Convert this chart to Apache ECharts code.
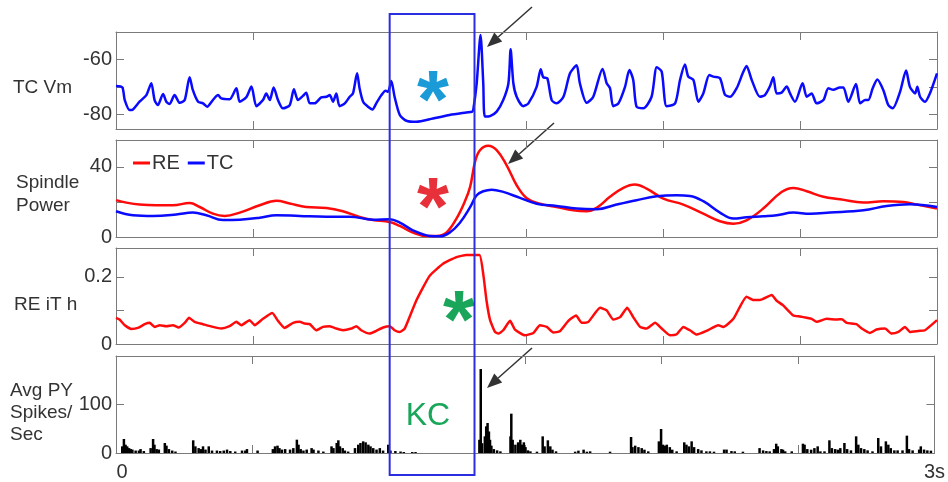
<!DOCTYPE html>
<html>
<head>
<meta charset="utf-8">
<script src="https://cdn.jsdelivr.net/npm/echarts@6/dist/echarts.min.js"></script>
<style>
html,body{margin:0;padding:0;background:#fff;}
#chart{width:948px;height:482px;}
</style>
</head>
<body>
<div id="chart"></div>
<script>
// ---------- DATA ----------
const xTicks = [0, 0.5, 1, 1.5, 2, 2.5, 3];            // seconds
const xLabelTicks = [0, 3];
const panelLabels = [['TC Vm'], ['Spindle', 'Power'], ['RE iT h'], ['Avg PY', 'Spikes/', 'Sec']];
const legendNames = ['RE', 'TC'];

// Panel 1: TC membrane potential (mV)
const tcVmT = [0.000,0.023,0.032,0.050,0.062,0.086,0.111,0.129,0.141,0.153,0.172,0.184,0.196,0.214,0.233,0.251,0.269,0.281,0.300,0.318,0.333,0.354,0.373,0.385,0.415,0.440,0.452,0.476,0.495,0.513,0.537,0.549,0.562,0.576,0.592,0.610,0.635,0.650,0.665,0.683,0.695,0.708,0.726,0.750,0.769,0.781,0.793,0.805,0.817,0.836,0.854,0.866,0.881,0.890,0.903,0.921,0.937,0.951,0.970,0.985,0.994,1.006,1.018,1.037,1.061,1.097,1.158,1.219,1.280,1.302,
  1.306,1.318,1.332,1.342,1.348,1.367,1.391,1.415,1.434,1.442,1.452,1.464,1.488,1.507,1.537,1.552,1.561,1.576,1.592,1.610,1.635,1.659,1.683,1.695,1.720,1.744,1.778,1.793,1.805,1.817,1.836,1.860,1.876,1.890,1.902,1.927,1.957,1.976,1.994,2.012,2.043,2.061,2.079,2.091,2.110,2.128,2.146,2.168,2.183,2.207,2.225,2.244,2.268,2.290,2.304,2.323,2.353,2.371,2.390,2.402,2.414,2.432,2.451,2.463,2.481,2.509,2.524,2.542,2.560,2.585,2.603,2.621,2.645,2.658,2.676,2.704,2.719,2.737,2.749,2.765,2.782,2.804,2.822,2.838,2.865,2.887,2.901,2.920,2.928,2.938,2.956,2.974,3.000];
const tcVmV = [-69.7,-70.2,-74.8,-78.4,-78.2,-75.4,-73.0,-68.7,-74.8,-76.6,-72.6,-75.4,-76.2,-73.0,-75.8,-74.8,-66.5,-71.2,-75.4,-76.0,-77.2,-74.8,-73.0,-74.2,-74.5,-70.5,-75.4,-73.8,-69.9,-77.0,-74.8,-72.4,-74.8,-70.2,-74.8,-77.8,-76.6,-70.9,-74.8,-73.3,-72.1,-76.0,-76.0,-73.8,-73.6,-73.0,-75.4,-72.4,-77.0,-76.0,-73.6,-72.4,-65.1,-70.5,-75.4,-77.2,-78.2,-76.0,-73.0,-71.4,-71.8,-67.9,-73.6,-80.2,-82.3,-82.7,-81.5,-80.2,-79.3,-79.0,
  -78.0,-68.7,-51.2,-68.7,-80.8,-80.6,-79.0,-74.8,-68.7,-56.4,-68.7,-73.6,-77.0,-76.0,-70.0,-63.6,-66.5,-66.9,-74.8,-76.0,-73.6,-65.1,-62.2,-68.7,-75.8,-73.6,-63.5,-68.7,-70.5,-77.0,-76.0,-70.0,-63.9,-67.5,-77.2,-77.8,-73.6,-62.9,-64.5,-77.0,-76.0,-67.5,-61.9,-66.3,-67.5,-75.4,-72.4,-65.7,-66.3,-66.9,-72.8,-73.6,-70.5,-65.1,-62.4,-67.5,-73.6,-73.0,-69.7,-66.5,-72.4,-72.1,-69.9,-72.4,-75.4,-68.7,-73.6,-72.4,-76.0,-74.8,-70.5,-71.1,-70.2,-70.2,-75.4,-69.0,-76.0,-74.8,-74.8,-70.5,-67.3,-71.2,-76.6,-77.8,-71.8,-64.1,-70.0,-72.4,-70.0,-73.6,-75.4,-72.4,-65.1];

// Panel 2: spindle power
const reSpT = [0.000,0.038,0.086,0.147,0.208,0.269,0.306,0.354,0.397,0.452,0.525,0.586,0.635,0.695,0.769,0.829,0.890,0.939,1.000,1.037,1.085,1.134,1.171,1.207,1.244,1.274,1.294,1.312,1.330,1.360,1.391,1.427,1.464,1.501,1.549,1.610,1.671,1.720,1.756,1.805,1.854,1.896,1.939,2.000,2.073,2.146,2.207,2.256,2.304,2.365,2.432,2.475,2.524,2.585,2.646,2.731,2.804,2.877,2.926,3.000];
const reSpV = [21.0,19.6,18.5,18.1,18.1,19.4,17.1,13.3,12.0,13.9,18.1,20.6,19.1,17.1,16.6,14.7,11.4,9.7,8.6,6.3,2.5,0.6,0.6,2.5,10.5,20.0,28.6,42.9,49.5,52.0,49.5,41.0,29.5,22.1,19.0,17.1,15.2,14.7,16.6,22.9,28.0,29.9,27.6,21.9,18.5,13.3,9.0,7.6,9.5,16.2,25.7,28.0,26.1,22.9,21.5,19.6,20.4,20.0,18.5,16.2];
const tcSpT = [0.000,0.062,0.135,0.220,0.281,0.330,0.391,0.452,0.525,0.586,0.671,0.769,0.854,0.939,1.000,1.037,1.085,1.146,1.183,1.219,1.256,1.294,1.318,1.342,1.373,1.415,1.476,1.537,1.610,1.683,1.756,1.829,1.902,1.976,2.049,2.097,2.146,2.207,2.256,2.304,2.365,2.414,2.475,2.536,2.609,2.731,2.816,2.901,3.000];
const tcSpV = [14.7,12.4,12.0,12.8,13.9,12.4,9.7,9.9,11.0,12.4,12.0,11.6,11.6,9.9,10.1,8.2,3.8,0.6,0.4,2.5,8.0,17.0,23.8,26.1,27.0,25.7,22.3,19.0,17.7,16.2,15.8,18.5,21.0,23.2,23.8,23.4,20.4,13.9,10.5,11.2,11.8,12.4,13.9,13.3,13.9,15.2,17.7,18.7,17.1];

// Panel 3: RE iT h
const reIthT = [0.000,0.013,0.032,0.056,0.080,0.105,0.123,0.141,0.160,0.184,0.208,0.229,0.251,0.267,0.287,0.318,0.354,0.385,0.415,0.440,0.458,0.488,0.507,0.537,0.571,0.592,0.616,0.647,0.671,0.689,0.708,0.732,0.756,0.781,0.805,0.829,0.860,0.878,0.896,0.927,0.951,0.976,1.000,1.018,1.037,1.055,1.097,1.146,1.195,1.244,1.280,1.328,1.342,1.354,1.367,1.385,1.397,1.415,1.440,1.458,1.494,1.525,1.549,1.574,1.598,1.622,1.653,1.681,1.702,1.726,1.769,1.793,1.817,1.842,1.868,1.890,1.915,1.939,1.970,1.994,2.024,2.049,2.073,2.097,2.122,2.158,2.201,2.219,2.256,2.304,2.329,2.353,2.396,2.414,2.438,2.475,2.499,2.524,2.542,2.560,2.597,2.633,2.652,2.670,2.706,2.725,2.755,2.779,2.810,2.834,2.859,2.883,2.901,2.932,2.956,3.000];
const reIthV = [0.078,0.073,0.056,0.045,0.048,0.059,0.063,0.051,0.056,0.053,0.056,0.049,0.063,0.078,0.066,0.059,0.051,0.046,0.053,0.066,0.056,0.071,0.056,0.075,0.092,0.069,0.048,0.063,0.066,0.061,0.059,0.041,0.051,0.053,0.046,0.041,0.046,0.053,0.041,0.031,0.039,0.049,0.053,0.041,0.036,0.046,0.129,0.203,0.239,0.259,0.265,0.265,0.208,0.129,0.071,0.036,0.031,0.041,0.069,0.043,0.026,0.033,0.056,0.051,0.034,0.038,0.069,0.085,0.063,0.066,0.108,0.100,0.073,0.080,0.108,0.080,0.051,0.046,0.063,0.046,0.026,0.029,0.051,0.041,0.028,0.039,0.056,0.051,0.075,0.141,0.131,0.131,0.146,0.129,0.115,0.085,0.082,0.078,0.075,0.066,0.075,0.073,0.074,0.063,0.059,0.046,0.033,0.043,0.046,0.031,0.036,0.051,0.036,0.039,0.041,0.071];

// Panel 4: average PY spikes / sec
const spikeT = [0.023,0.029,0.035,0.041,0.048,0.054,0.060,0.072,0.084,0.090,0.102,0.127,0.136,0.141,0.149,0.157,0.179,0.185,0.194,0.206,0.218,0.283,0.291,0.303,0.312,0.319,0.328,0.340,0.352,0.370,0.382,0.395,0.407,0.419,0.437,0.462,0.474,0.480,0.519,0.575,0.583,0.592,0.599,0.608,0.620,0.638,0.650,0.663,0.669,0.677,0.687,0.699,0.717,0.724,0.742,0.760,0.790,0.797,0.809,0.815,0.821,0.831,0.839,0.851,0.876,0.888,0.896,0.906,0.915,0.925,0.933,0.943,0.955,0.967,0.979,0.998,1.006,1.024,1.043,1.055,1.086,1.098,
  1.332,1.337,1.342,1.352,1.357,1.362,1.367,1.371,1.376,1.385,1.397,1.409,1.446,1.449,1.454,1.464,1.474,1.482,1.488,1.495,1.501,1.510,1.519,1.543,1.564,1.571,1.583,1.592,1.600,1.613,1.683,1.695,1.714,1.726,1.738,1.811,1.888,1.893,1.903,1.915,1.927,1.937,1.951,1.990,1.998,2.005,2.012,2.019,2.030,2.039,2.055,2.083,2.091,2.100,2.110,2.119,2.134,2.146,2.164,2.177,2.192,2.229,2.238,2.256,2.268,2.298,2.359,2.372,2.384,2.396,2.412,2.420,2.426,2.439,2.445,2.453,2.477,2.518,2.524,2.534,2.548,2.560,2.572,2.582,2.597,2.615,2.624,2.636,2.646,2.655,2.670,2.680,2.694,2.713,2.721,2.731,2.743,2.755,2.773,2.794,2.804,2.822,2.831,2.840,2.853,2.865,2.883,2.899,2.907,2.920,2.944,2.950,2.962,2.974,2.987];
const spikeV = [13.6,28.6,17,13.6,10,8,7,5,5,8,4,10,28.6,17,8,7,20.4,15,8,5,3,25.9,13.6,10,8,13.6,7,13.6,5,5,4,5,7,4,3,5,5,8,5,8,13.6,15,10,7,8,7,10,27.2,17,8,5,7,10,7,5,3,13.6,10,20.4,25.9,13.6,10,5,3,10,17,20.4,23.8,21.8,17,13.6,10,7,10,5,17,5,4,3,2,2,2,
  27,171.4,20,34,54.4,61.2,44,27,15,8,5.4,3.4,34,80.3,27,17,21.8,27,17,21.8,12,5.4,3.4,2.7,34,13.6,25.9,13.6,6.8,3.4,2.7,4.8,6.8,2.7,3.4,2.7,32.7,12,15,12,10,6.8,3.4,23.8,49,17,15,17,12,6.8,3.4,21.8,17,13.6,23.8,12,8,5.4,3.4,3.4,2.7,7,7,4,3.4,2.7,10,5.4,4,3.4,8,19,13.6,8,6.8,3.4,3.4,19,17,8,6.8,10,13.6,3.4,3.4,25.9,10,8,6.8,10,20.4,8,5.4,34,17,10,8,5.4,3.4,30.6,13.6,23.8,17,10,5.4,5.4,5.4,35.4,8,5.4,7,13.6,7,5.4,4.8];

// Axis ranges and ticks
const yRanges = [[-85.3, -50.1], [0, 55.3], [0, 0.286], [0, 198]];
const yTickVals = [[-80, -70, -60], [0, 20, 40], [0, 0.1, 0.2], [0, 100]];
const yLabelVals = [[-80, -60], [0, 40], [0, 0.2], [0, 100]];
const kcWindow = [1.0, 1.31];   // seconds

// ---------- CHART ----------
const zip = (a, b) => a.map((v, i) => [v, b[i]]);
const GRAY = '#7a7a7a';
const TXT = '#333';
const FONT = '"Liberation Sans", Arial, sans-serif';
const gridsPx = [
  {top: 32, height: 97}, {top: 140, height: 97}, {top: 248, height: 96}, {top: 356, height: 97}
];
const grid = gridsPx.map(g => ({left: 116, right: 11, top: g.top, height: g.height, show: false}));

const xAxis = [], yAxis = [];
for (let i = 0; i < 4; i++) {
  [ 'bottom', 'top' ].forEach(pos => {
    const showLab = (i === 3 && pos === 'bottom');
    xAxis.push({
      type: 'value', gridIndex: i, position: pos, min: 0, max: 3,
      axisLine: {show: true, onZero: false, lineStyle: {color: GRAY, width: 1}},
      axisTick: {show: true, inside: true, length: 8, customValues: xTicks, lineStyle: {color: GRAY}},
      axisLabel: {show: showLab, customValues: xLabelTicks, margin: 9, fontSize: 20, color: TXT, fontFamily: FONT,
        formatter: v => (v === 3 ? '3s' : '{z|' + v + '}'),
        rich: {z: {fontSize: 20, color: TXT, fontFamily: FONT, padding: [0, 0, 0, 12]}}},
      splitLine: {show: false}
    });
  });
  [ 'left', 'right' ].forEach(pos => {
    yAxis.push({
      type: 'value', gridIndex: i, position: pos, min: yRanges[i][0], max: yRanges[i][1],
      axisLine: {show: true, onZero: false, lineStyle: {color: GRAY, width: 1}},
      axisTick: {show: true, inside: true, length: 8, customValues: yTickVals[i], lineStyle: {color: GRAY}},
      axisLabel: {show: pos === 'left', customValues: yLabelVals[i], margin: 4, fontSize: 20, color: TXT, fontFamily: FONT},
      splitLine: {show: false}
    });
  });
}

const lineBase = {type: 'line', showSymbol: false, symbol: 'none', lineStyle: {width: 2.5}, animation: false};
const series = [
  Object.assign({}, lineBase, {name: 'TC Vm', xAxisIndex: 0, yAxisIndex: 0, data: zip(tcVmT, tcVmV), color: '#0a0aff', smooth: 0.25}),
  Object.assign({}, lineBase, {name: 'RE', xAxisIndex: 2, yAxisIndex: 2, data: zip(reSpT, reSpV), color: '#ff0a0a', smooth: 0.4}),
  Object.assign({}, lineBase, {name: 'TC', xAxisIndex: 2, yAxisIndex: 2, data: zip(tcSpT, tcSpV), color: '#0a0aff', smooth: 0.4}),
  Object.assign({}, lineBase, {name: 'RE iT h', xAxisIndex: 4, yAxisIndex: 4, data: zip(reIthT, reIthV), color: '#ff0a0a', smooth: 0.15}),
  {name: 'PY spikes', type: 'bar', xAxisIndex: 6, yAxisIndex: 6, data: zip(spikeT, spikeV), barWidth: 2.5,
    itemStyle: {color: '#000'}, animation: false}
];

const chart = echarts.init(document.getElementById('chart'), null, {renderer: 'canvas'});
chart.setOption({
  backgroundColor: '#fff',
  animation: false,
  grid, xAxis, yAxis, series,
  legend: {
    data: legendNames, left: 128, top: 148, icon: 'rect', itemWidth: 17, itemHeight: 3, itemGap: 8,
    textStyle: {fontSize: 20, color: TXT, fontFamily: FONT, padding: [0, 0, 0, -3]}
  }
});

// ---------- annotations ----------
const bx0 = chart.convertToPixel({xAxisIndex: 0}, kcWindow[0]);
const bx1 = chart.convertToPixel({xAxisIndex: 0}, kcWindow[1]);
function arrow(x0, y0, x1, y1) {
  const ang = Math.atan2(y1 - y0, x1 - x0), L = 15, W = 6;
  const bxp = x1 - L * Math.cos(ang), byp = y1 - L * Math.sin(ang);
  const px = -Math.sin(ang) * W, py = Math.cos(ang) * W;
  return [
    {type: 'line', shape: {x1: x0, y1: y0, x2: bxp, y2: byp}, style: {stroke: '#333', lineWidth: 1.5}, silent: true},
    {type: 'polygon', shape: {points: [[x1, y1], [bxp + px, byp + py], [bxp - px, byp - py]]}, style: {fill: '#333'}, silent: true}
  ];
}
function star(x, y, color) {
  return {type: 'text', style: {text: '*', x: x, y: y, fill: color, font: 'bold 82px ' + FONT, align: 'center', verticalAlign: 'middle'}, silent: true};
}
const g = [];
g.push({type: 'rect', shape: {x: bx0, y: 14, width: bx1 - bx0, height: 461}, style: {fill: 'none', stroke: '#2a2ee0', lineWidth: 2}, silent: true, z: 10});
g.push(...arrow(532, 7, 487, 47), ...arrow(554, 123, 508, 164), ...arrow(532, 348, 487, 388));
g.push(star(433, 104, '#1a9ad6'), star(433, 211, '#e8303a'), star(459, 324, '#1aa65a'));
g.push({type: 'text', style: {text: 'KC', x: 428, y: 416, fill: '#1aa65a', font: '32px ' + FONT, align: 'center', verticalAlign: 'middle'}, silent: true});
const labY = [[88], [183, 206], [305], [391, 413, 435]];
const labX = [13, 16, 14, 10];
panelLabels.forEach((lines, i) => lines.forEach((t, j) => {
  g.push({type: 'text', style: {text: t, x: labX[i], y: labY[i][j], fill: TXT, font: '19px ' + FONT, align: 'left', verticalAlign: 'middle'}, silent: true});
}));
chart.setOption({graphic: g});
</script>
</body>
</html>
